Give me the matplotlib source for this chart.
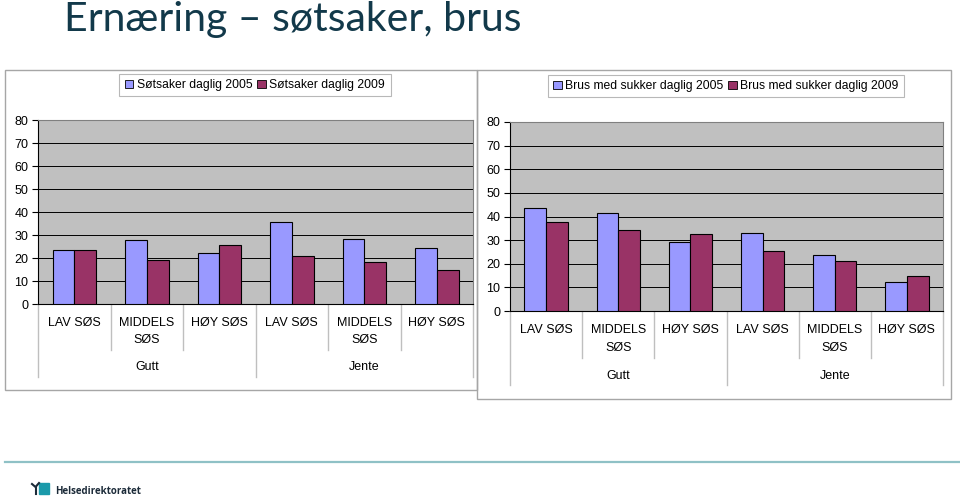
import numpy as np
import matplotlib
matplotlib.use('Agg')
import matplotlib.pyplot as plt
import matplotlib.transforms as mtransforms
from matplotlib.patches import Patch, Rectangle
from matplotlib.lines import Line2D

# data
sos = ['LAV SØS', 'MIDDELS\nSØS', 'HØY SØS', 'LAV SØS', 'MIDDELS\nSØS', 'HØY SØS']
kjonn = ['Gutt', 'Jente']

sot_2005 = [23.6, 27.7, 22.0, 35.5, 28.4, 24.5]
sot_2009 = [23.6, 19.0, 25.5, 21.0, 18.1, 14.9]
brus_2005 = [43.7, 41.6, 29.0, 32.9, 23.6, 12.2]
brus_2009 = [37.6, 34.2, 32.5, 25.5, 21.1, 14.9]

sot_labels = ['Søtsaker daglig 2005', 'Søtsaker daglig 2009']
brus_labels = ['Brus med sukker daglig 2005', 'Brus med sukker daglig 2009']

c2005 = '#9999FF'
c2009 = '#993366'

W, H = 960, 498
plt.rcParams['font.family'] = ['Liberation Sans', 'DejaVu Sans']

fig = plt.figure(figsize=(W / 100, H / 100), dpi=100)


def fx(x):
    return x / W


def fy(y):
    return 1 - y / H


def panel(box, plot, v05, v09, labels, lab_y, lab_y2, grp_y, sub_end, grp_end, leg_c):
    # chart frame
    x0, y0, x1, y1 = box
    fig.add_artist(Rectangle((fx(x0), fy(y1)), (x1 - x0) / W, (y1 - y0) / H,
                             transform=fig.transFigure, fill=False,
                             edgecolor='#A6A6A6', lw=1))
    px0, py0, px1, py1 = plot
    ax = fig.add_axes([fx(px0), fy(py1), (px1 - px0) / W, (py1 - py0) / H])
    ax.set_facecolor('#C0C0C0')
    x = np.arange(len(v05))
    w = 0.3
    ax.bar(x - w / 2, v05, w, color=c2005, edgecolor='black', lw=0.8, zorder=3)
    ax.bar(x + w / 2, v09, w, color=c2009, edgecolor='black', lw=0.8, zorder=3)
    ax.set_xlim(-0.5, len(v05) - 0.5)
    ax.set_ylim(0, 80)
    ax.set_yticks(range(0, 81, 10))
    ax.set_xticks([])
    ax.set_axisbelow(True)
    ax.yaxis.grid(True, color='black', lw=0.7)
    ax.tick_params(axis='y', labelsize=9, length=4, width=0.8, pad=3)
    for s in ['top', 'right']:
        ax.spines[s].set_color('#808080')
        ax.spines[s].set_linewidth(0.8)
    for s in ['left', 'bottom']:
        ax.spines[s].set_color('black')
        ax.spines[s].set_linewidth(0.8)

    # multi level category axis
    tr = mtransforms.blended_transform_factory(ax.transData, fig.transFigure)
    for i, lab in enumerate(sos):
        lines = lab.split('\n')
        ax.text(i, fy(lab_y), lines[0], transform=tr, ha='center',
                va='center', fontsize=9)
        if len(lines) > 1:
            ax.text(i, fy(lab_y2), lines[1], transform=tr, ha='center',
                    va='center', fontsize=9)
    for g, name in enumerate(kjonn):
        ax.text(g * 3 + 1, fy(grp_y), name, transform=tr, ha='center',
                va='center', fontsize=9)
    for b in range(len(v05) + 1):
        end = grp_end if b % 3 == 0 else sub_end
        ax.plot([b - 0.5, b - 0.5], [fy(py1), fy(end)], transform=tr,
                color='#BFBFBF', lw=1, clip_on=False)

    handles = [Patch(facecolor=c2005, edgecolor='black', lw=0.6),
               Patch(facecolor=c2009, edgecolor='black', lw=0.6)]
    leg = fig.legend(handles, labels, loc='center',
                     bbox_to_anchor=(fx(leg_c[0]), fy(leg_c[1])), ncol=2,
                     frameon=True, fancybox=False, edgecolor='#A6A6A6',
                     fontsize=8.7, handlelength=0.7, handleheight=0.7,
                     handletextpad=0.3, columnspacing=0.4, borderpad=0.45)
    leg.get_frame().set_linewidth(0.8)
    return ax


panel((5, 70, 477, 390), (38, 120, 473, 304), sot_2005, sot_2009, sot_labels,
      323, 340, 367, 350, 377, (255, 85))
panel((477, 70, 951, 399), (510, 122, 943, 311), brus_2005, brus_2009,
      brus_labels, 330, 348, 376, 358, 385, (726, 86))

# title
fig.text(fx(64), fy(31), 'Ernæring – søtsaker, brus', fontsize=29.5,
         family=['Lato', 'DejaVu Sans'], color='#12394A', va='baseline')

# footer
fig.add_artist(Line2D([fx(5), 1], [fy(462), fy(462)], color='#8FC1C6', lw=1.6))
fig.add_artist(Rectangle((fx(39), fy(494)), 10 / W, 11 / H, color='#1B9AAA',
                         transform=fig.transFigure))
fig.add_artist(Line2D([fx(32), fx(35.5), fx(39)], [fy(484), fy(487), fy(483)],
                      color='#1C2B39', lw=1.5))
fig.add_artist(Line2D([fx(35.5), fx(35.5)], [fy(487), fy(494)], color='#1C2B39', lw=1.5))
fig.text(fx(55), fy(491), 'Helsedirektoratet', fontsize=7.0, fontweight='bold',
         family=['Open Sans', 'DejaVu Sans'], color='#1C2B39', va='center')

fig.savefig('out.png', dpi=100)
